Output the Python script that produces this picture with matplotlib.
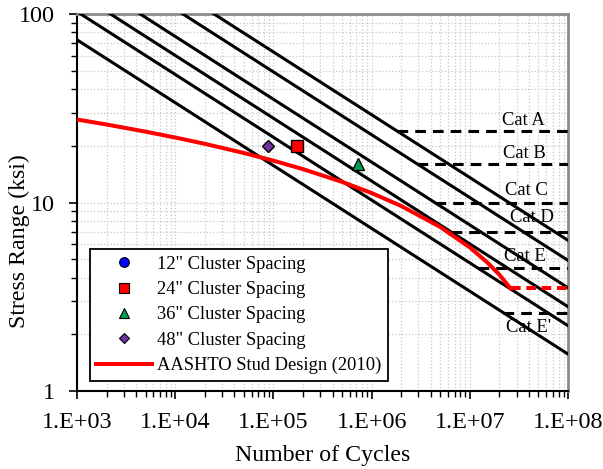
import numpy as np
import matplotlib
matplotlib.use('Agg')
import matplotlib.pyplot as plt
from matplotlib.lines import Line2D
from matplotlib.ticker import FixedLocator, LogLocator, NullFormatter

plt.rcParams['font.family'] = ['Liberation Serif', 'DejaVu Serif']

# AASHTO detail category lines (straight on log-log), stress at N=1e3 and N=1e8
cat_names = ['Cat A', 'Cat B', 'Cat C', 'Cat D', 'Cat E', "Cat E'"]
cat_s_start = [292.0, 229.0, 164.0, 130.0, 103.0, 73.0]
cat_s_end = [6.30, 4.93, 3.53, 2.80, 2.22, 1.57]
line_n = [1e3, 1e8]

# constant amplitude fatigue thresholds (ksi) and where they meet each line
cat_thresh = [24.0, 16.0, 10.0, 7.0, 4.5, 2.6]
thresh_n_start = [1.8e6, 2.9e6, 4.4e6, 6.4e6, 1.2e7, 2.2e7]

# label positions for the categories
label_n = [3.5e7, 3.6e7, 3.8e7, 4.3e7, 3.6e7, 4.0e7]
label_s = [27.4, 18.3, 11.6, 8.3, 5.2, 2.16]

# AASHTO stud design curve (2010)
stud_n = [1e3, 2e3, 5e3, 1e4, 2e4, 5e4, 1e5, 2e5, 5e5, 1e6, 2e6, 5e6, 1e7, 1.5e7, 2e7, 2.6e7]
stud_s = [27.58, 25.94, 23.77, 22.13, 20.49, 18.32, 16.68, 15.04, 12.87, 11.23, 9.59, 7.42,
          5.78, 4.82, 4.14, 3.5]
stud_thresh = 3.5
stud_thresh_n = [2.6e7, 1e8]

# test results
spacing_labels = ['12" Cluster Spacing', '24" Cluster Spacing', '36" Cluster Spacing', '48" Cluster Spacing']
spacing_n = [1.73e5, 1.73e5, 7.2e5, 8.9e4]
spacing_s = [20.0, 20.0, 16.0, 20.0]
spacing_marker = ['o', 's', '^', 'D']
spacing_color = ['#0000ff', '#ff0000', '#00a050', '#7030a0']
spacing_size = [8, 8, 8, 6]

fig = plt.figure(figsize=(6.03, 4.69), dpi=100)
ax = fig.add_axes([0.1277, 0.1663, 0.8143, 0.8037])

for i in range(len(cat_names)):
    ax.plot(line_n, [cat_s_start[i], cat_s_end[i]], color='black', lw=2.2, zorder=3)
    ax.plot([thresh_n_start[i], 1e8], [cat_thresh[i], cat_thresh[i]], color='black', lw=2.2,
            dashes=(3.5, 2.3), zorder=3)
    ax.text(label_n[i], label_s[i], cat_names[i], fontsize=13.4, ha='center', va='center', zorder=4)

ax.plot(stud_n, stud_s, color='#ff0000', lw=2.9, zorder=5)
ax.plot(stud_thresh_n, [stud_thresh, stud_thresh], color='#ff0000', lw=2.9, dashes=(2.4, 1.4), zorder=5)

for i in range(len(spacing_labels)):
    ax.plot(spacing_n[i], spacing_s[i], ls='none', marker=spacing_marker[i], ms=spacing_size[i],
            mfc=spacing_color[i], mec='black', mew=1.0, zorder=6)

ax.set_xscale('log')
ax.set_yscale('log')
ax.set_xlim(1e3, 1e8)
ax.set_ylim(1, 100)

xt = [1e3, 1e4, 1e5, 1e6, 1e7, 1e8]
ax.xaxis.set_major_locator(FixedLocator(xt))
ax.set_xticklabels(['1.E+03', '1.E+04', '1.E+05', '1.E+06', '1.E+07', '1.E+08'])
ax.xaxis.set_minor_locator(LogLocator(base=10, subs=np.arange(2, 10)))
ax.xaxis.set_minor_formatter(NullFormatter())
ax.yaxis.set_major_locator(FixedLocator([1, 10, 100]))
ax.set_yticklabels(['1', '10', '100'])
ax.yaxis.set_minor_locator(LogLocator(base=10, subs=np.arange(2, 10)))
ax.yaxis.set_minor_formatter(NullFormatter())

ax.tick_params(which='major', direction='out', length=6, width=1.2, labelsize=17.4)
ax.tick_params(axis='x', which='major', pad=9)
ax.tick_params(axis='y', which='major', pad=10)
ax.tick_params(which='minor', direction='out', length=4, width=1.0)
ax.grid(which='both', color='#c8c8c8', ls=':', lw=0.9)
ax.set_axisbelow(True)

for side in ['left', 'bottom']:
    ax.spines[side].set_color('black')
    ax.spines[side].set_linewidth(1.5)
for side in ['top', 'right']:
    ax.spines[side].set_color('#8c8c8c')
    ax.spines[side].set_linewidth(2.0)

ax.set_xlabel('Number of Cycles', fontsize=17.2, labelpad=9)
fig.text(19 / 603, 1 - 241 / 469, 'Stress Range (ksi)', fontsize=17.2, rotation=90,
         ha='center', va='center')

handles = []
for i in range(len(spacing_labels)):
    handles.append(Line2D([], [], ls='none', marker=spacing_marker[i], ms=spacing_size[i] - 1,
                          mfc=spacing_color[i], mec='black', mew=0.8))
handles.append(Line2D([], [], color='#ff0000', lw=2.9))
labels = spacing_labels + ['AASHTO Stud Design (2010)']
leg = ax.legend(handles, labels, loc='lower left', bbox_to_anchor=(0.026, 0.027), borderaxespad=0,
                fontsize=13.3, frameon=True, fancybox=False, framealpha=1, edgecolor='black',
                handlelength=3.0, handletextpad=0.3, labelspacing=0.45, borderpad=0.35)
leg.get_frame().set_linewidth(1.3)
leg.set_zorder(7)

fig.savefig('out.png', dpi=100)
